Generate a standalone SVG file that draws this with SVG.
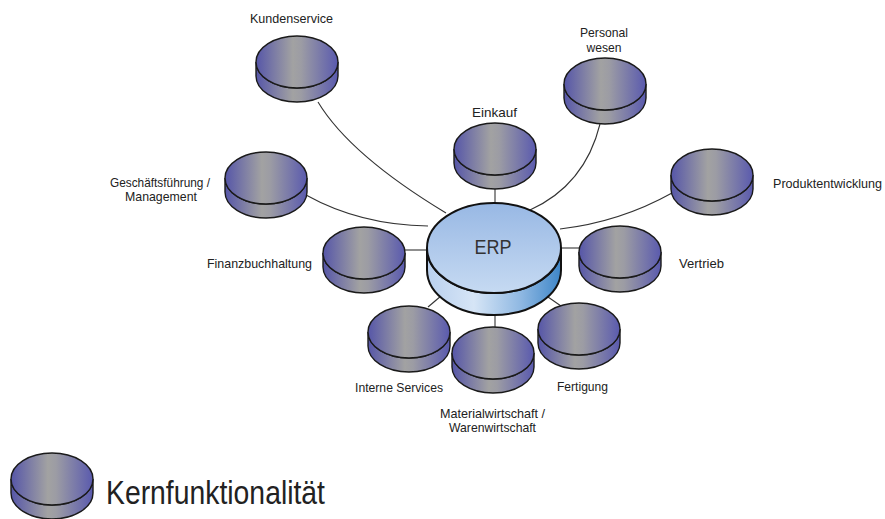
<svg xmlns="http://www.w3.org/2000/svg" xmlns:xlink="http://www.w3.org/1999/xlink" width="885" height="519" viewBox="0 0 885 519">
<style>
.lbl{font-family:"Liberation Sans",Arial,sans-serif;font-size:13px;fill:#222}
.sm{font-size:12.2px}
.c{text-anchor:middle}
.r{text-anchor:end}
.con{fill:none;stroke:#333;stroke-width:1.1}
.dk{stroke:#1a1a1a;stroke-width:1.4}
</style>
<defs>
<linearGradient id="gDisk" x1="0" y1="0" x2="1" y2="0">
<stop offset="0" stop-color="#5656a8"/>
<stop offset="0.45" stop-color="#a2a2a2"/>
<stop offset="0.55" stop-color="#9c9ca4"/>
<stop offset="1" stop-color="#5a5aae"/>
</linearGradient>
<linearGradient id="gErpTop" x1="0" y1="0" x2="0" y2="1">
<stop offset="0" stop-color="#98b8e4"/>
<stop offset="1" stop-color="#c6daf2"/>
</linearGradient>
<linearGradient id="gErpSide" x1="0" y1="0" x2="1" y2="0">
<stop offset="0" stop-color="#b9d0ee"/>
<stop offset="0.35" stop-color="#d6e5f6"/>
<stop offset="0.7" stop-color="#8fb8e2"/>
<stop offset="1" stop-color="#3e86c8"/>
</linearGradient>
<g id="disk">
<path class="dk" fill="url(#gDisk)" d="M-41,0 A41,26 0 0 0 41,0 L41,14 A41,26 0 0 1 -41,14 Z"/>
<ellipse class="dk" fill="url(#gDisk)" cx="0" cy="0" rx="41" ry="26"/>
</g>
</defs>
<rect width="885" height="519" fill="#fff"/>
<g id="connectors">
<path class="con" d="M318,102 Q350,155 446,213"/>
<path class="con" d="M306,195 Q360,225 428,226"/>
<path class="con" d="M405,250 L428,250"/>
<path class="con" d="M495,189 L495,203"/>
<path class="con" d="M600,124 Q585,185 530,210"/>
<path class="con" d="M672,193 Q620,222 560,229"/>
<path class="con" d="M561,248 L580,248"/>
<path class="con" d="M441,296 L428,307"/>
<path class="con" d="M495,315 L495,327"/>
<path class="con" d="M548,297 L561,306"/>
</g>
<g id="erp">
<path fill="url(#gErpSide)" stroke="#111" stroke-width="2" d="M427,248 A67,45 0 0 0 561,248 L561,270 A67,45 0 0 1 427,270 Z"/>
<ellipse fill="url(#gErpTop)" stroke="#111" stroke-width="2" cx="494" cy="248" rx="67" ry="45"/>
<text class="lbl c" x="493" y="254" style="font-size:20px;fill:#333" textLength="37" lengthAdjust="spacingAndGlyphs">ERP</text>
</g>
<g id="kundenservice">
<use xlink:href="#disk" transform="translate(297,62)"/>
<text class="lbl c" x="291.5" y="22.5" textLength="83" lengthAdjust="spacingAndGlyphs">Kundenservice</text>
</g>
<g id="personalwesen">
<use xlink:href="#disk" transform="translate(605,84)"/>
<text class="lbl sm c" x="604" y="37" textLength="48" lengthAdjust="spacingAndGlyphs">Personal</text>
<text class="lbl sm c" x="604" y="51.7" textLength="35" lengthAdjust="spacingAndGlyphs">wesen</text>
</g>
<g id="einkauf">
<use xlink:href="#disk" transform="translate(495,149)"/>
<text class="lbl c" x="494.5" y="116.7" textLength="45" lengthAdjust="spacingAndGlyphs">Einkauf</text>
</g>
<g id="geschaeftsfuehrung">
<use xlink:href="#disk" transform="translate(266,178)"/>
<text class="lbl sm c" x="160" y="187" textLength="100" lengthAdjust="spacingAndGlyphs">Geschäftsführung /</text>
<text class="lbl sm c" x="161" y="201.2" textLength="72" lengthAdjust="spacingAndGlyphs">Management</text>
</g>
<g id="produktentwicklung">
<use xlink:href="#disk" transform="translate(712,175)"/>
<text class="lbl sm" x="773" y="187.5" textLength="109" lengthAdjust="spacingAndGlyphs">Produktentwicklung</text>
</g>
<g id="finanzbuchhaltung">
<use xlink:href="#disk" transform="translate(364,253)"/>
<text class="lbl r" x="312" y="267.5" textLength="105" lengthAdjust="spacingAndGlyphs">Finanzbuchhaltung</text>
</g>
<g id="vertrieb">
<use xlink:href="#disk" transform="translate(620,252)"/>
<text class="lbl" x="679" y="268" textLength="45" lengthAdjust="spacingAndGlyphs">Vertrieb</text>
</g>
<g id="interne-services">
<use xlink:href="#disk" transform="translate(409,332)"/>
<text class="lbl c" x="399" y="391.5" textLength="88" lengthAdjust="spacingAndGlyphs">Interne Services</text>
</g>
<g id="materialwirtschaft">
<use xlink:href="#disk" transform="translate(493,353)"/>
<text class="lbl sm c" x="492.5" y="418" textLength="105" lengthAdjust="spacingAndGlyphs">Materialwirtschaft /</text>
<text class="lbl sm c" x="492.5" y="432" textLength="87" lengthAdjust="spacingAndGlyphs">Warenwirtschaft</text>
</g>
<g id="fertigung">
<use xlink:href="#disk" transform="translate(579,329)"/>
<text class="lbl c" x="582.5" y="391" textLength="51" lengthAdjust="spacingAndGlyphs">Fertigung</text>
</g>
<g id="legend">
<use xlink:href="#disk" transform="translate(52,479)"/>
<text class="lbl" x="106" y="503.5" style="font-size:33px" textLength="219" lengthAdjust="spacingAndGlyphs">Kernfunktionalität</text>
</g>
</svg>
